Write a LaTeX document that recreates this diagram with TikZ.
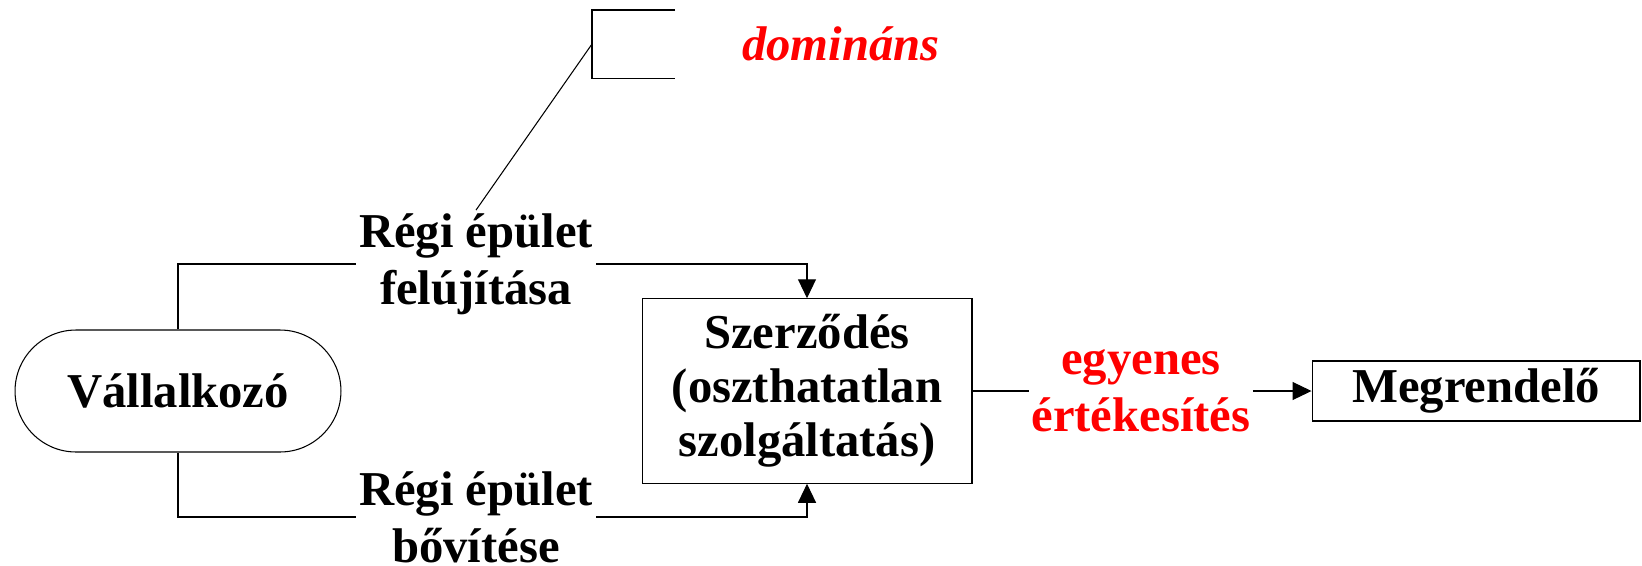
\documentclass[tikz,border=0pt]{standalone}
\usepackage{fontspec}
\setmainfont{Liberation Serif}
\usepackage{tikz}
\usetikzlibrary{arrows.meta}

\begin{document}
\begin{tikzpicture}[x=0.02cm,y=-0.02cm,
  txt/.style={font=\fontsize{27.7}{30.7}\selectfont\bfseries,align=center},
  box/.style={txt,draw,line width=0.6pt},
  lbl/.style={align=center,font=\fontsize{27.7}{32.4}\selectfont\bfseries,inner sep=0.06cm},
  conn/.style={line width=0.6pt},
  arr/.style={conn,-{Triangle[length=0.38cm,width=0.36cm]}}]
\useasboundingbox (0,0) rectangle (1642,565);
\node[box,rounded corners=1.22cm,minimum width=6.52cm,minimum height=2.44cm] (vall) at (178,391) {Vállalkozó};
\node[box,minimum width=6.6cm,minimum height=3.69cm] (szerz) at (807,391) {Szerződés\\(oszthatatlan\\szolgáltatás)};
\node[box,minimum width=6.56cm,minimum height=1.2cm] (megr) at (1476,391) {Megrendelő};
\node[lbl] (felu) at (476,264) {Régi épület\\felújítása};
\node[lbl] (bov) at (476,517) {Régi épület\\bővítése};
\node[lbl,text=red,inner sep=0.04cm] (egy) at (1141,391) {egyenes\\értékesítés};
\node[txt,text=red,font=\fontsize{27.7}{30.7}\selectfont\bfseries\itshape] (dom) at (841,44) {domináns};
\coordinate (brk) at (592,44);
\draw[conn] (675,10) -| (592,78.5) -- (675,78.5);
\draw[conn] (felu.north) -- (brk);
\draw[conn] (vall.north) |- (felu.west);
\draw[arr] (felu.east) -| (szerz.north);
\draw[conn] (vall.south) |- (bov.west);
\draw[arr] (bov.east) -| (szerz.south);
\draw[conn] (szerz.east) -- (egy.west);
\draw[arr] (egy.east) -- (megr.west);
\end{tikzpicture}
\end{document}
